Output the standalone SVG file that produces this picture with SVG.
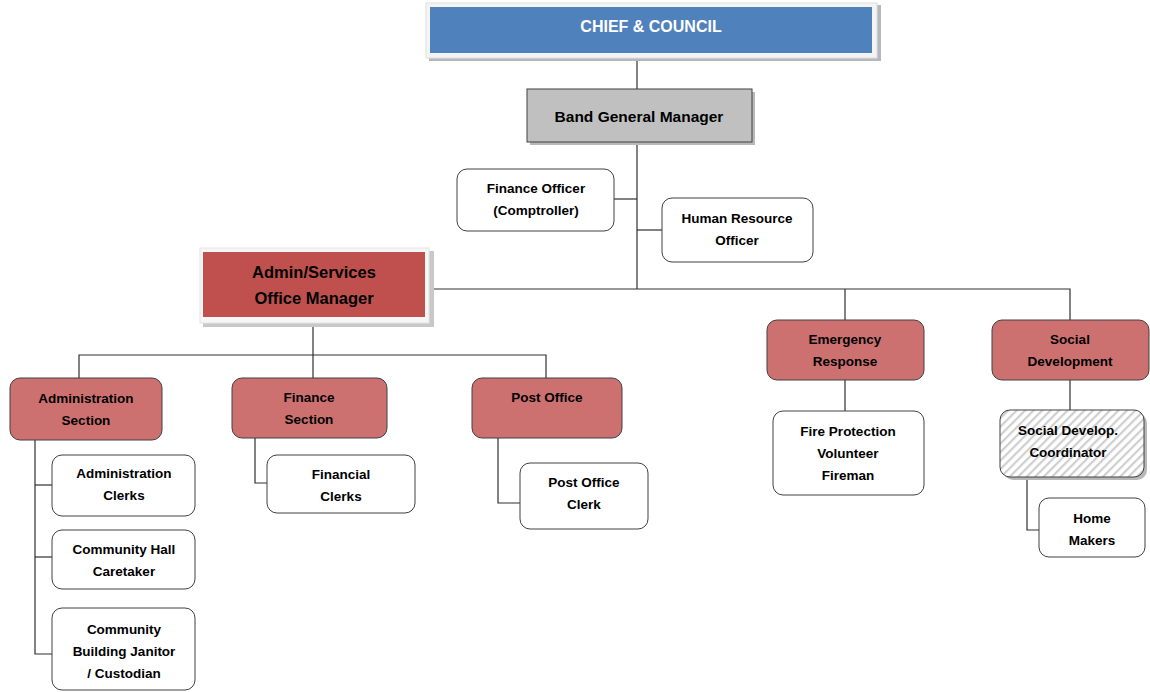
<svg xmlns="http://www.w3.org/2000/svg" width="1150" height="692" viewBox="0 0 1150 692">
<defs>
<pattern id="hatch" width="6" height="6" patternUnits="userSpaceOnUse" patternTransform="rotate(45)">
<rect width="6" height="6" fill="#ffffff"/>
<rect width="2.2" height="6" fill="#cfcfcf"/>
</pattern>
</defs>
<style>
text{font-family:"Liberation Sans",Arial,sans-serif;font-weight:bold;fill:#000;text-anchor:middle}
.t{font-size:13.5px}
.box{fill:#fff;stroke:#404040;stroke-width:1}
.sec{fill:#cd7170;stroke:#404040;stroke-width:1}
.sh{fill:#b8b8b8}
.conn{stroke:#303030;stroke-width:1.2;fill:none}
</style>
<rect width="1150" height="692" fill="#fff"/>
<g id="connectors">
<path class="conn" d="M637,60V90"/>
<path class="conn" d="M637,142V289"/>
<path class="conn" d="M614,199H637"/>
<path class="conn" d="M637,230H662"/>
<path class="conn" d="M428,289H1070V320"/>
<path class="conn" d="M845,289V320"/>
<path class="conn" d="M313,326V378"/>
<path class="conn" d="M79,379V355H546V378"/>
<path class="conn" d="M35,440V654H52"/>
<path class="conn" d="M35,485H52"/>
<path class="conn" d="M35,557H52"/>
<path class="conn" d="M255,438V483H267"/>
<path class="conn" d="M498,438V503H520"/>
<path class="conn" d="M845,380V411"/>
<path class="conn" d="M1070,380V410"/>
<path class="conn" d="M1027,477V530H1039"/>
</g>
<g id="chief">
<rect x="429" y="5" width="452" height="56" fill="#b4b8bf"/>
<rect x="426" y="3" width="451" height="55" fill="#f4f4f4" stroke="#e0e0e0"/>
<rect x="430" y="7" width="442" height="46" fill="#4f81bd"/>
<text x="651" y="32" style="font-size:16px;fill:#fff">CHIEF &amp; COUNCIL</text>
</g>
<g id="band-manager">
<rect x="530" y="92" width="225" height="53" class="sh"/>
<rect x="527" y="89" width="225" height="53" fill="#c0c0c0" stroke="#404040"/>
<text x="639" y="122" style="font-size:15.5px">Band General Manager</text>
</g>
<g id="finance-officer">
<rect x="457" y="169" width="157" height="62" rx="10" class="box"/>
<text x="536" y="193" class="t">Finance Officer</text>
<text x="536" y="215" class="t">(Comptroller)</text>
</g>
<g id="hr-officer">
<rect x="662" y="198" width="151" height="64" rx="10" class="box"/>
<text x="737" y="223" class="t">Human Resource</text>
<text x="737" y="245" class="t">Officer</text>
</g>
<g id="admin-manager">
<rect x="203" y="251" width="231" height="76" fill="#c8c8c8"/>
<rect x="200" y="248" width="229" height="75" fill="#f6f6f6" stroke="#e4e4e4"/>
<rect x="203" y="252" width="222" height="65" fill="#c0504d"/>
<text x="314" y="278" style="font-size:16.5px">Admin/Services</text>
<text x="314" y="304" style="font-size:16.5px">Office Manager</text>
</g>
<g id="admin-section">
<rect x="10" y="378" width="152" height="62" rx="10" class="sec"/>
<text x="86" y="403" class="t">Administration</text>
<text x="86" y="425" class="t">Section</text>
</g>
<g id="finance-section">
<rect x="232" y="378" width="155" height="60" rx="10" class="sec"/>
<text x="309" y="402" class="t">Finance</text>
<text x="309" y="424" class="t">Section</text>
</g>
<g id="post-office">
<rect x="472" y="378" width="150" height="60" rx="10" class="sec"/>
<text x="547" y="402" class="t">Post Office</text>
</g>
<g id="emergency-response">
<rect x="767" y="320" width="157" height="60" rx="10" class="sec"/>
<text x="845" y="344" class="t">Emergency</text>
<text x="845" y="366" class="t">Response</text>
</g>
<g id="social-development">
<rect x="992" y="320" width="157" height="60" rx="10" class="sec"/>
<text x="1070" y="344" class="t">Social</text>
<text x="1070" y="366" class="t">Development</text>
</g>
<g id="admin-clerks">
<rect x="52" y="455" width="143" height="61" rx="10" class="box"/>
<text x="124" y="478" class="t">Administration</text>
<text x="124" y="500" class="t">Clerks</text>
</g>
<g id="hall-caretaker">
<rect x="52" y="530" width="143" height="59" rx="10" class="box"/>
<text x="124" y="554" class="t">Community Hall</text>
<text x="124" y="576" class="t">Caretaker</text>
</g>
<g id="janitor">
<rect x="52" y="608" width="143" height="82" rx="10" class="box"/>
<text x="124" y="634" class="t">Community</text>
<text x="124" y="656" class="t">Building Janitor</text>
<text x="124" y="678" class="t">/ Custodian</text>
</g>
<g id="financial-clerks">
<rect x="267" y="455" width="148" height="58" rx="10" class="box"/>
<text x="341" y="479" class="t">Financial</text>
<text x="341" y="501" class="t">Clerks</text>
</g>
<g id="post-office-clerk">
<rect x="520" y="463" width="128" height="66" rx="10" class="box"/>
<text x="584" y="487" class="t">Post Office</text>
<text x="584" y="509" class="t">Clerk</text>
</g>
<g id="fire-protection">
<rect x="773" y="411" width="151" height="84" rx="10" class="box"/>
<text x="848" y="436" class="t">Fire Protection</text>
<text x="848" y="458" class="t">Volunteer</text>
<text x="848" y="480" class="t">Fireman</text>
</g>
<g id="social-coordinator">
<rect x="1003" y="413" width="144" height="67" rx="10" class="sh"/>
<rect x="1000" y="410" width="144" height="67" rx="10" fill="url(#hatch)" stroke="#404040"/>
<text x="1068" y="435" class="t">Social Develop.</text>
<text x="1068" y="457" class="t">Coordinator</text>
</g>
<g id="home-makers">
<rect x="1039" y="498" width="106" height="59" rx="10" class="box"/>
<text x="1092" y="523" class="t">Home</text>
<text x="1092" y="545" class="t">Makers</text>
</g>
</svg>
